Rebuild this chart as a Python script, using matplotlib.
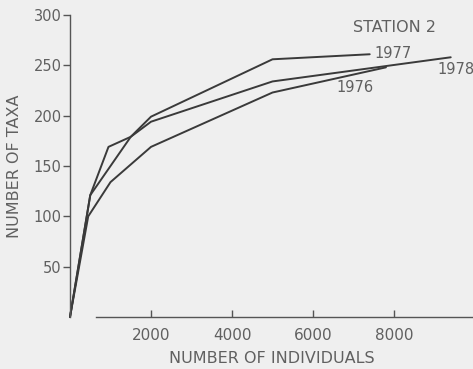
import matplotlib
matplotlib.use("Agg")
import matplotlib.pyplot as plt

# cumulative taxa vs number of individuals, station 2
n_1976 = [0, 450, 1000, 2000, 5000, 7800]
taxa_1976 = [0, 100, 134, 169, 223, 248]

n_1977 = [0, 500, 950, 1500, 2000, 5000, 7400]
taxa_1977 = [0, 121, 169, 179, 199, 256, 261]

n_1978 = [0, 500, 1500, 2000, 5000, 9400]
taxa_1978 = [0, 121, 179, 194, 234, 258]

xticks = [2000, 4000, 6000, 8000]
yticks = [50, 100, 150, 200, 250, 300]

bg = "#efefef"
ink = "#3a3a3a"
txt = "#606060"

fig = plt.figure(figsize=(4.73, 3.69), dpi=100, facecolor=bg)
ax = fig.add_axes([70 / 473, 52 / 369, 403 / 473, 302 / 369], facecolor=bg)

for xs, ys in [(n_1976, taxa_1976), (n_1977, taxa_1977), (n_1978, taxa_1978)]:
    ax.plot(xs, ys, color=ink, lw=1.4, solid_capstyle="round", clip_on=False)

ax.set_xlim(0, 9950)
ax.set_ylim(0, 300)

for s in ["top", "right"]:
    ax.spines[s].set_visible(False)
ax.spines["left"].set_color("#555555")
ax.spines["bottom"].set_color("#555555")
ax.spines["left"].set_linewidth(1.0)
ax.spines["bottom"].set_linewidth(1.0)
ax.spines["bottom"].set_bounds(650, 9950)

ax.set_xticks(xticks)
ax.set_xticklabels([str(v) for v in xticks])
ax.set_yticks(yticks)
ax.set_yticklabels([str(v) for v in yticks])
ax.tick_params(axis="x", direction="in", length=5, width=1, color="#555555",
               pad=8, labelsize=11, labelcolor=txt)
ax.tick_params(axis="y", direction="out", length=5, width=1, color="#555555",
               pad=1, labelsize=10.5, labelcolor=txt)

ax.set_xlabel("NUMBER OF INDIVIDUALS", fontsize=11.5, color=txt, labelpad=6)
ax.set_ylabel("NUMBER OF TAXA", fontsize=11.5, color=txt, labelpad=8)

ax.text(8000, 288, "STATION 2", fontsize=11.5, color=txt, ha="center", va="center")
ax.text(7520, 262, "1977", fontsize=10.5, color=txt, ha="left", va="center")
ax.text(7040, 228, "1976", fontsize=10.5, color=txt, ha="center", va="center")
ax.text(9060, 246, "1978", fontsize=10.5, color=txt, ha="left", va="center", clip_on=False)

fig.savefig("out.png", dpi=100, facecolor=bg)
